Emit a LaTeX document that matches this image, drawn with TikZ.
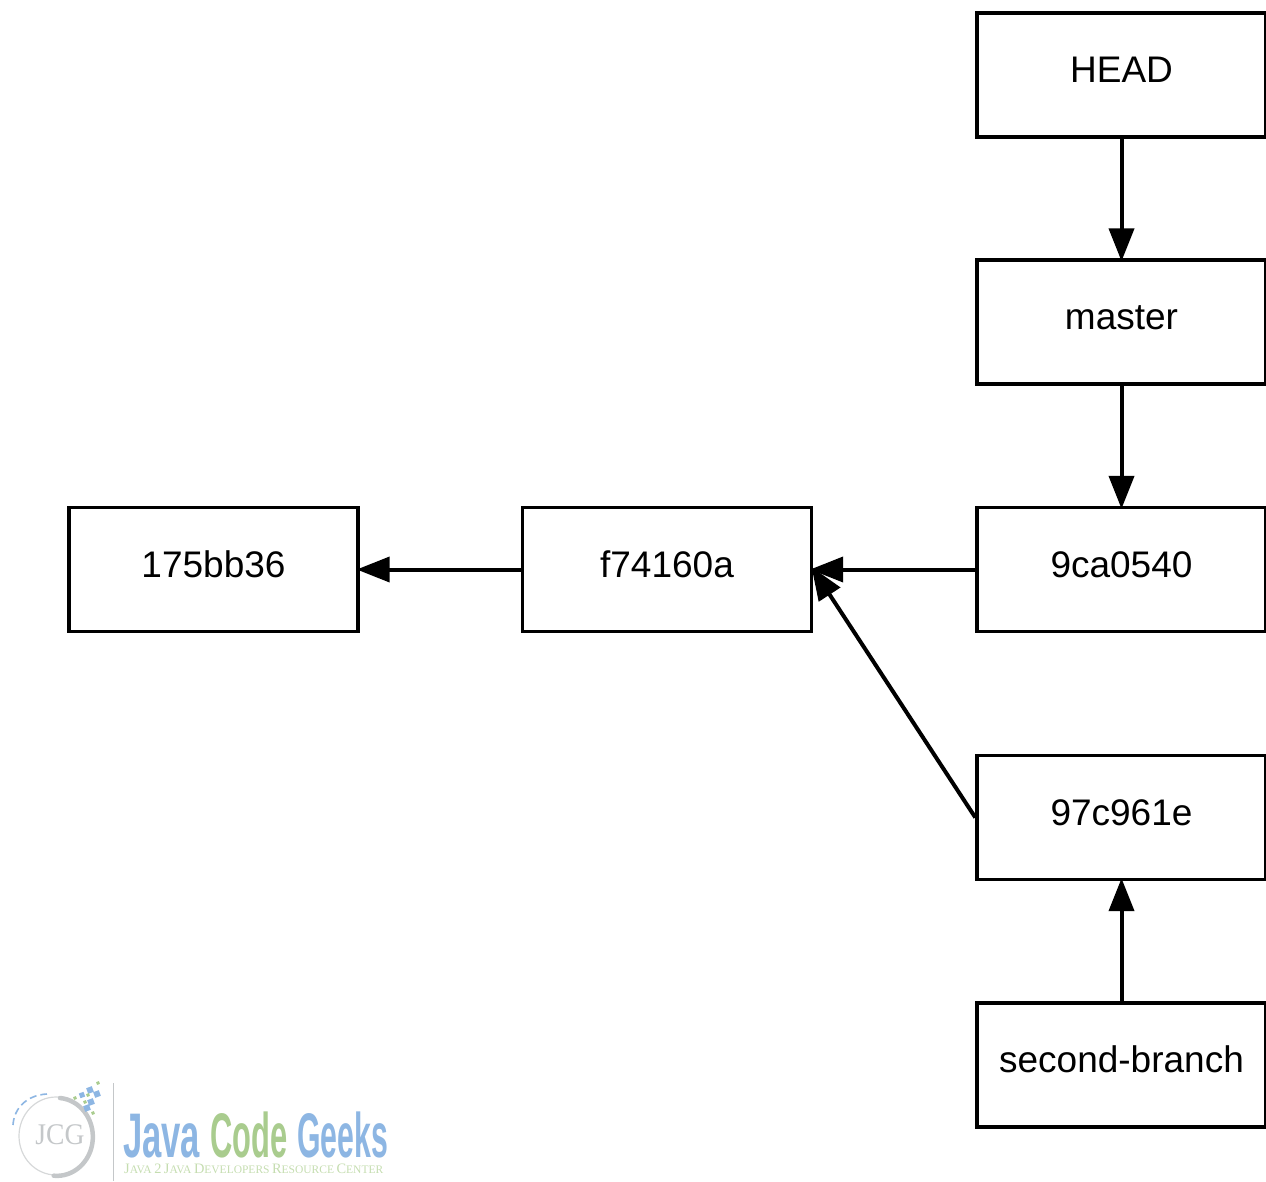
\documentclass[tikz,border=0pt]{standalone}
\usepackage{fontspec}
\setmainfont{Liberation Sans}
\newfontfamily\serifl{Liberation Serif}
\usetikzlibrary{arrows.meta}
\definecolor{logoblue}{HTML}{8DB6E3}
\definecolor{logogreen}{HTML}{A9CC8E}
\definecolor{logogray}{HTML}{C4C7C9}
\definecolor{logosub}{HTML}{C5DDB0}
\newcommand{\capword}[2]{{\fontsize{14.4}{14.4}\selectfont #1}{\fontsize{11.5}{11.5}\selectfont #2}}
\tikzset{
  box/.style={draw=black,line width=3.4pt,fill=white,minimum width=289pt,minimum height=124pt,inner sep=0pt,
    font=\fontsize{37}{37}\selectfont,text height=27pt,text depth=12pt,anchor=north west},
  link/.style={draw=black,line width=4pt,-{Triangle[length=33pt,width=25pt]},shorten >=-3pt},
  logoword/.style={inner sep=0pt,anchor=base west,font=\bfseries\fontsize{63}{63}\selectfont},
}
\begin{document}
\begin{tikzpicture}[x=1pt,y=-1pt]
\useasboundingbox (0,0) rectangle (1266,1182);
\node[box] (head) at (975.3,11.3) {HEAD};
\node[box] (master) at (975.3,258.3) {master};
\node[box] (c9) at (975.3,505.8) {9ca0540};
\node[box] (c97) at (975.3,753.8) {97c961e};
\node[box] (second) at (975.3,1001.3) {second-branch};
\node[box] (f7) at (520.8,505.8) {f74160a};
\node[box] (c17) at (67.3,505.8) {175bb36};
\draw[link] (head) -- (master);
\draw[link] (master) -- (c9);
\draw[link] (second) -- (c97);
\draw[link] (c9) -- (f7);
\draw[link] (f7) -- (c17);
\draw[link] (c97.west) -- (f7.east);
% logo
\draw[logogray,line width=1.5pt] (113.5,1083) -- (113.5,1181);
\draw[logogray!70,line width=1.2pt] (56,1136) ellipse [x radius=37,y radius=39];
\draw[logogray,line width=4.5pt,line cap=round] (60,1098) arc[start angle=-85,end angle=95,x radius=36,y radius=39];
\draw[logoblue,line width=1.6pt,dash pattern=on 7pt off 4pt] (13,1125) .. controls (14,1108) and (27,1095) .. (47,1094);
\node[inner sep=0pt,text=logogray,font=\serifl\fontsize{30}{30}\selectfont] (jcg) at (60,1135) {\scalebox{.92}[1]{JCG}};
\foreach \x/\y/\c/\s in {90/1090/logoblue/6,97/1094/logoblue/6,82/1095/logoblue/5,91/1102/logoblue/6,87/1108/logoblue/6,75/1098/logogreen/3,88/1095/logogreen/3,85/1102/logogreen/3,98/1083/logogreen/3,93/1113/logogreen/3}
  \fill[\c,rotate around={20:(\x,\y)}] (\x-\s/2,\y-\s/2) rectangle +(\s,\s);
\node[logoword,text=logoblue] (java) at (123,1157) {\scalebox{.55}[1]{Java}};
\node[logoword,text=logogreen] (code) at (210,1157) {\scalebox{.49}[1]{Code}};
\node[logoword,text=logoblue] (geeks) at (297,1157) {\scalebox{.48}[1]{Geeks}};
\node[inner sep=0pt,anchor=base west,text=logosub,font=\serifl] (sub) at (124,1173) {\capword{J}{AVA} \capword{2}{} \capword{J}{AVA} \capword{D}{EVELOPERS} \capword{R}{ESOURCE} \capword{C}{ENTER}};
\end{tikzpicture}
\end{document}
